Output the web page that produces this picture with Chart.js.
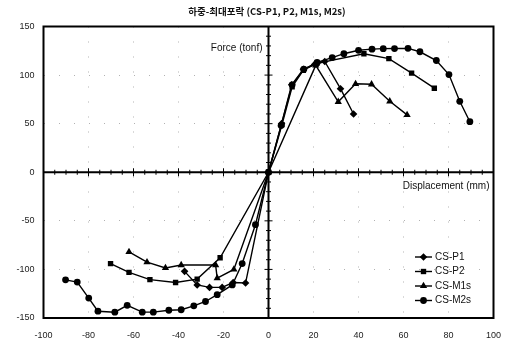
<!DOCTYPE html>
<html>
<head>
<meta charset="utf-8">
<script src="https://cdn.jsdelivr.net/npm/chart.js@4.4.1/dist/chart.umd.min.js"></script>
<style>
  html, body { margin: 0; padding: 0; background: #fff; }
  #wrap { width: 516px; height: 344px; position: relative; }
</style>
</head>
<body>
<div id="wrap"><canvas id="c" width="516" height="344"></canvas></div>
<script>
// ---- data ----
const titleText = "하중-최대포락 (CS-P1, P2, M1s, M2s)";
const xTickValues = [-100, -80, -60, -40, -20, 0, 20, 40, 60, 80, 100];
const yTickValues = [-150, -100, -50, 0, 50, 100, 150];
const seriesNames = ["CS-P1", "CS-P2", "CS-M1s", "CS-M2s"];

const p1X = [-37.3, -31.7, -26.2, -20.6, -15.7, -10.2, 0, 5.8, 10.3, 15.5, 20.5, 25, 32, 37.8];
const p1Y = [-102, -116, -118.5, -118.5, -113.5, -114, 0, 50, 90, 106, 111, 114, 86, 60];

const p2X = [-70.2, -62, -52.7, -41.3, -31.7, -21.5, 0, 6, 10.5, 15.5, 21.5, 42.4, 53.5, 63.6, 73.7];
const p2Y = [-94, -103, -110.5, -113.5, -110, -88, 0, 49, 88, 105, 112, 122, 117, 102, 86.5];

const m1X = [-62, -54, -45.8, -38.8, -23.5, -22.8, -15.4, 0, 21, 31, 38.7, 45.8, 53.9, 61.6];
const m1Y = [-82, -92.5, -98.5, -95.5, -95.5, -109, -100, 0, 110, 72.5, 91, 90.5, 73, 59];

const m2X = [-90.2, -85, -79.9, -75.8, -68.3, -62.8, -56.1, -51.2, -44.3, -38.8, -33.2, -28, -22.8, -16.1, -11.7, -5.8, 0,
             5.6, 10.5, 15.7, 21.6, 28.3, 33.5, 40, 46, 51, 56, 62, 67.3, 74.6, 80.2, 85, 89.5];
const m2Y = [-110.7, -113, -129.5, -143, -144, -137, -144, -144, -142, -141.5, -137.5, -133, -126, -116, -94, -54, 0,
             48, 90, 106, 113, 118, 122, 125.5, 126.7, 127.2, 127.3, 127.5, 124, 115, 100.5, 73, 52];

const xAxisTitle = "Displacement (mm)";
const yAxisTitle = "Force (tonf)";

function pts(xs, ys) { return xs.map((x, i) => ({ x: x, y: ys[i] })); }

const styles = [
  { pointStyle: 'rectRot', radius: 3.8 },
  { pointStyle: 'rect', radius: 3.8 },
  { pointStyle: 'triangle', radius: 4.2 },
  { pointStyle: 'circle', radius: 3.4 }
];
const dataSets = [pts(p1X, p1Y), pts(p2X, p2Y), pts(m1X, m1Y), pts(m2X, m2Y)];

const datasets = dataSets.map((d, i) => ({
  label: seriesNames[i],
  data: d,
  showLine: true,
  borderColor: '#000',
  backgroundColor: '#000',
  borderWidth: 1.4,
  pointStyle: styles[i].pointStyle,
  pointRadius: styles[i].radius,
  pointBorderWidth: 0,
  pointBackgroundColor: '#000',
  tension: 0
}));

const FONT = "'Liberation Sans', Arial, sans-serif";

const decor = {
  id: 'decor',
  beforeDatasetsDraw(chart) {
    const { ctx, chartArea: a, scales: { x, y } } = chart;
    const x0 = x.getPixelForValue(0), y0 = y.getPixelForValue(0);
    ctx.save();
    ctx.strokeStyle = '#000';
    // center axes
    ctx.lineWidth = 2;
    ctx.beginPath();
    ctx.moveTo(a.left, y0); ctx.lineTo(a.right, y0);
    ctx.moveTo(x0, a.top); ctx.lineTo(x0, a.bottom);
    ctx.stroke();
    // minor ticks on the center axes
    ctx.lineWidth = 1;
    ctx.beginPath();
    for (let v = -100; v <= 100; v += 5) {
      const px = x.getPixelForValue(v);
      const h = (v % 20 === 0) ? 4 : 2.5;
      ctx.moveTo(px, y0 - h); ctx.lineTo(px, y0 + h);
    }
    for (let v = -150; v <= 150; v += 10) {
      const py = y.getPixelForValue(v);
      const h = (v % 50 === 0) ? 4 : 2.5;
      ctx.moveTo(x0 - h, py); ctx.lineTo(x0 + h, py);
    }
    ctx.stroke();
    // frame
    ctx.lineWidth = 2;
    ctx.strokeRect(a.left, a.top, a.right - a.left, a.bottom - a.top);
    // axis titles
    ctx.fillStyle = '#111';
    ctx.font = "10px " + FONT;
    ctx.textBaseline = 'middle';
    ctx.textAlign = 'right';
    ctx.fillText(yAxisTitle, x0 - 6, y.getPixelForValue(128));
    ctx.fillText(xAxisTitle, a.right - 4, y.getPixelForValue(-14));
    ctx.restore();
  },
  afterDraw(chart) {
    const { ctx } = chart;
    ctx.save();
    // title
    ctx.fillStyle = '#111';
    ctx.font = "bold 9.5px 'Noto Sans CJK KR', 'Liberation Sans', sans-serif";
    ctx.textAlign = 'center';
    ctx.textBaseline = 'middle';
    ctx.fillText(titleText, 267, 11);
    // legend inside plot
    const lx = 415, tx = 435;
    const ys = [257, 271.5, 286, 300.5];
    chart.data.datasets.forEach((ds, i) => {
      const yy = ys[i];
      ctx.strokeStyle = '#000';
      ctx.lineWidth = 1.4;
      ctx.beginPath(); ctx.moveTo(lx, yy); ctx.lineTo(lx + 17, yy); ctx.stroke();
      ctx.fillStyle = '#000';
      Chart.helpers.drawPoint(ctx, { pointStyle: ds.pointStyle, radius: ds.pointRadius, borderWidth: 0 }, lx + 8.5, yy);
      ctx.fillStyle = '#111';
      ctx.font = "10px " + FONT;
      ctx.textAlign = 'left';
      ctx.textBaseline = 'middle';
      ctx.fillText(ds.label, tx, yy);
    });
    ctx.restore();
  }
};

new Chart(document.getElementById('c'), {
  type: 'scatter',
  data: { datasets: datasets },
  options: {
    responsive: false,
    animation: false,
    layout: { padding: { top: 26.5, right: 22.5, left: 0, bottom: 0 } },
    plugins: { legend: { display: false }, title: { display: false }, tooltip: { enabled: false } },
    scales: {
      x: {
        type: 'linear', min: -100, max: 100,
        afterBuildTicks(s) { s.ticks = xTickValues.map(v => ({ value: v })); },
        afterFit(s) { s.height = 26; },
        grid: { display: true, color: 'rgba(0,0,0,0.3)', lineWidth: 1, drawTicks: false },
        border: { display: false, dash: [1, 14] },
        ticks: { color: '#222', font: { size: 9, family: FONT }, padding: 12, maxRotation: 0, autoSkip: false }
      },
      y: {
        type: 'linear', min: -150, max: 150,
        afterBuildTicks(s) { s.ticks = yTickValues.map(v => ({ value: v })); },
        afterFit(s) { s.width = 43.5; },
        grid: { display: true, color: 'rgba(0,0,0,0.3)', lineWidth: 1, drawTicks: false },
        border: { display: false, dash: [1, 14] },
        ticks: { color: '#222', font: { size: 9, family: FONT }, padding: 9, autoSkip: false }
      }
    }
  },
  plugins: [decor]
});
</script>
</body>
</html>
